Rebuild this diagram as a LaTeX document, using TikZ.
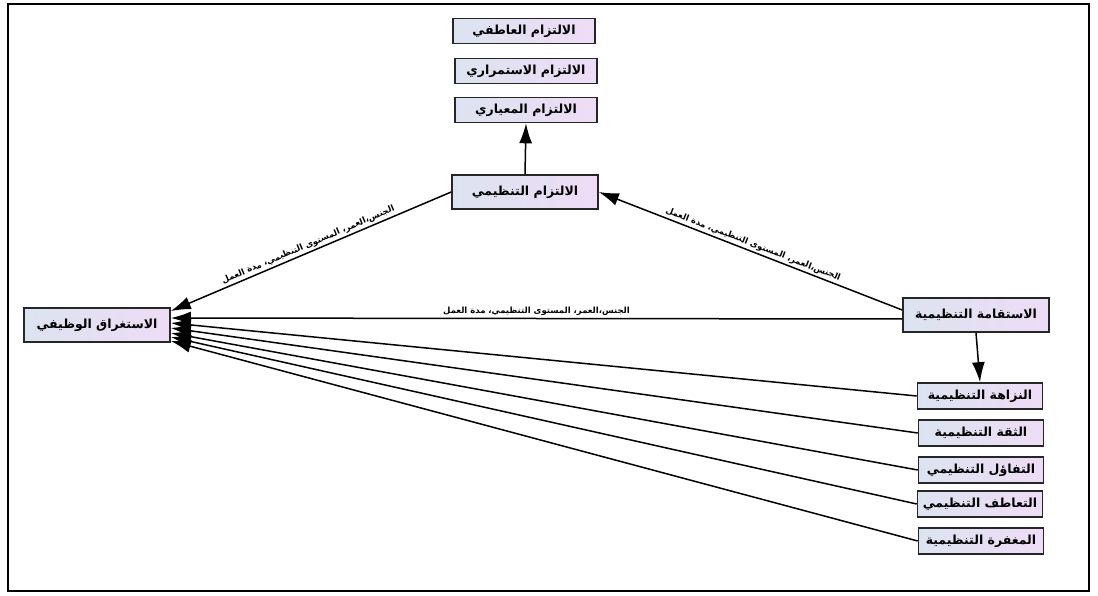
\documentclass[tikz,border=0pt]{standalone}
\usepackage{fontspec}
\newfontfamily\arabicfont[Script=Arabic]{DejaVu Sans}
\TeXXeTstate=1
\usetikzlibrary{arrows.meta}
\definecolor{boxleft}{HTML}{DCE3F0}
\definecolor{boxright}{HTML}{EEDCF6}
\newcommand{\artext}[1]{\arabicfont\bfseries\beginR #1\endR}
\begin{document}
\begin{tikzpicture}[x=1pt,y=-1pt,main_node/.style={draw=black!85,line width=1.6pt,left color=boxleft,right color=boxright,minimum width=146pt,minimum height=34pt,inner sep=2pt,font=\fontsize{12.5}{14}\selectfont},top_node/.style={main_node,minimum width=142pt,minimum height=25pt},dim_node/.style={main_node,minimum width=125pt,minimum height=26pt},link/.style={line width=1.5pt,-{Latex[length=20pt,width=13pt]}},lbl_node/.style={font=\fontsize{8.5}{10}\selectfont,inner sep=2pt}]
		
		\useasboundingbox (0,0) rectangle (1098,596);
		\draw[line width=2pt] (8,4) rectangle (1089,591);
		
		\node[top_node] (aff) at (524,31) {\artext{الالتزام العاطفي}};
		\node[top_node] (cont) at (526,71) {\artext{الالتزام الاستمراري}};
		\node[top_node] (norm) at (526,110) {\artext{الالتزام المعياري}};
		\node[main_node] (oc) at (525,192) {\artext{الالتزام التنظيمي}};
		\node[main_node] (eng) at (97,325) {\artext{الاستغراق الوظيفي}};
		\node[main_node] (ori) at (976,315) {\artext{الاستقامة التنظيمية}};
		\node[dim_node] (d1) at (980,396) {\artext{النزاهة التنظيمية}};
		\node[dim_node] (d2) at (981,433) {\artext{الثقة التنظيمية}};
		\node[dim_node] (d3) at (981,470) {\artext{التفاؤل التنظيمي}};
		\node[dim_node] (d4) at (980,504) {\artext{التعاطف التنظيمي}};
		\node[dim_node] (d5) at (981,541) {\artext{المغفرة التنظيمية}};
		
		\draw[link] (oc.north) -- (norm.south);
		\draw[link] (ori.south) -- (d1.north);
		\draw[link] (oc.west) -- node[lbl_node,midway,sloped,above] {\artext{الجنس،العمر، المستوى التنظيمي، مدة العمل}} ([yshift=14pt]eng.east);
		\draw[link] ([yshift=5pt]ori.west) -- node[lbl_node,midway,sloped,above] {\artext{الجنس،العمر، المستوى التنظيمي، مدة العمل}} (oc.east);
		\draw[link] ([yshift=-4pt]ori.west) -- node[lbl_node,midway,above] {\artext{الجنس،العمر، المستوى التنظيمي، مدة العمل}} ([yshift=7pt]eng.east);
		\draw[link] (d1.west) -- ([yshift=2pt]eng.east);
		\draw[link] (d2.west) -- ([yshift=-3pt]eng.east);
		\draw[link] (d3.west) -- ([yshift=-8pt]eng.east);
		\draw[link] (d4.west) -- ([yshift=-12pt]eng.east);
		\draw[link] (d5.west) -- ([yshift=-16pt]eng.east);
		\end{tikzpicture}
\end{document}
